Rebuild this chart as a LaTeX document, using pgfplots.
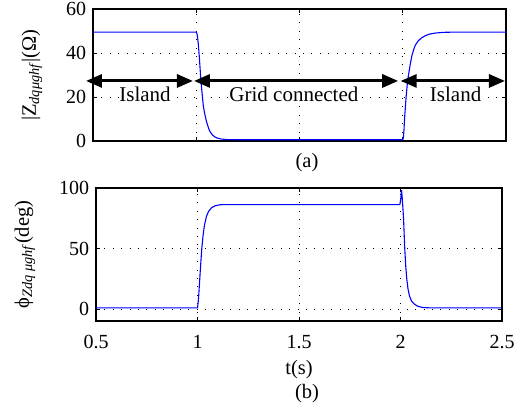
\documentclass[border=0pt]{standalone}
\usepackage{fontspec}
\setmainfont{Liberation Serif}
\usepackage{pgfplots}
\pgfplotsset{compat=1.18}
\usetikzlibrary{arrows.meta}
\definecolor{mblue}{RGB}{0,0,255}
\begin{document}
\fontsize{20bp}{24bp}\selectfont
\begin{tikzpicture}
\path[use as bounding box] (0bp,0bp) rectangle (531bp,410bp);
\pgfplotsset{
  mstyle/.style={
    scale only axis,
    /pgf/number format/assume math mode=true,
    tick align=inside,
    major tick length=4bp,
    tick style={black, line width=0.6bp},
    axis line style={black, line width=1.2bp},
    grid=major,
    major grid style={black, line width=0.7bp, dash pattern=on 0.9bp off 7.5bp},
    xmin=0.5, xmax=2.5,
    xtick={0.5,1,1.5,2,2.5},
    tick label style={font=\fontsize{20bp}{24bp}\selectfont},
    xticklabel style={yshift=-7bp},
    label style={font=\fontsize{20.5bp}{24bp}\selectfont},
    clip=false,
  }
}
\begin{axis}[mstyle, at={(93bp,269bp)}, anchor=south west, width=413bp, height=132bp,
  ymin=0, ymax=60, ytick={0,20,40,60}, xticklabels={},
  ylabel={|Z\textsubscript{\textit{dqμghf}}|(Ω)},
  ylabel style={at={(axis description cs:-0.148,0.5)}, anchor=center, rotate=0},
]
\addplot[mblue, line width=1.1bp] coordinates {
(0.5,49.5) (1.0,49.5) (1.003,49) (1.006,47.5) (1.01,44) (1.015,38) (1.02,31)
(1.023,27) (1.028,22) (1.034,16.2) (1.04,12.8) (1.05,8.7) (1.06,5.7) (1.067,4.2)
(1.08,2.6) (1.09,1.9) (1.1,1.4) (1.12,0.9) (1.15,0.65) (1.2,0.55) (2.0,0.55)
(2.003,1.5) (2.006,5) (2.009,10.5) (2.015,18.5) (2.023,27) (2.031,31.8) (2.038,35.8)
(2.045,39) (2.053,41.6) (2.061,43.6) (2.075,45.5) (2.09,46.8) (2.11,47.9) (2.13,48.6)
(2.16,49.1) (2.2,49.4) (2.25,49.5) (2.5,49.5)
};
\draw[line width=3bp, {Triangle[length=16bp,width=13bp]}-{Triangle[length=16bp,width=13bp]}]
  (axis cs:0.466,27.3) -- (axis cs:0.984,27.3);
\draw[line width=3bp, {Triangle[length=16bp,width=13bp]}-{Triangle[length=16bp,width=13bp]}]
  (axis cs:0.989,27.3) -- (axis cs:1.978,27.3);
\draw[line width=3bp, {Triangle[length=16bp,width=13bp]}-{Triangle[length=16bp,width=13bp]}]
  (axis cs:1.990,27.3) -- (axis cs:2.495,27.3);
\node[anchor=base, fill=white, inner sep=0.5bp, font=\fontsize{21bp}{24bp}\selectfont] at (axis cs:0.752,17.9) {Island};
\node[anchor=base, fill=white, inner sep=0.5bp, font=\fontsize{21bp}{24bp}\selectfont] at (axis cs:1.473,17.9) {Grid connected};
\node[anchor=base, fill=white, inner sep=0.5bp, font=\fontsize{21bp}{24bp}\selectfont] at (axis cs:2.256,17.9) {Island};
\end{axis}
\begin{axis}[mstyle, at={(96bp,89bp)}, anchor=south west, width=406bp, height=133bp,
  ymin=-10, ymax=100, ytick={0,50,100},
  xticklabels={0.5,1,1.5,2,2.5},
  ylabel={ϕ\textsubscript{\textit{Zdq μghf}}(deg)},
  ylabel style={at={(axis description cs:-0.175,0.5)}, anchor=center, rotate=0},
]
\addplot[mblue, line width=1.1bp] coordinates {
(0.5,0.8) (1.0,0.8) (1.003,5) (1.006,11) (1.009,19) (1.015,35) (1.021,49.7)
(1.027,60) (1.034,69) (1.044,76.5) (1.054,80.5) (1.07,83.8) (1.087,85.3) (1.11,86.1)
(1.13,86.3) (1.997,86.3) (2.002,92) (2.005,98.3) (2.008,93) (2.012,83) (2.015,74.7)
(2.021,49.7) (2.026,35) (2.031,24.7) (2.037,16.5) (2.044,10.8) (2.055,6.3) (2.069,3.9)
(2.085,2.2) (2.108,1.2) (2.15,0.8) (2.5,0.8)
};
\end{axis}
\node[font=\fontsize{20.5bp}{24bp}\selectfont] at (307bp,247bp) {(a)};
\node[font=\fontsize{20.5bp}{24bp}\selectfont] at (299bp,40bp) {t(s)};
\node[font=\fontsize{20.5bp}{24bp}\selectfont] at (307bp,16bp) {(b)};
\end{tikzpicture}
\end{document}
